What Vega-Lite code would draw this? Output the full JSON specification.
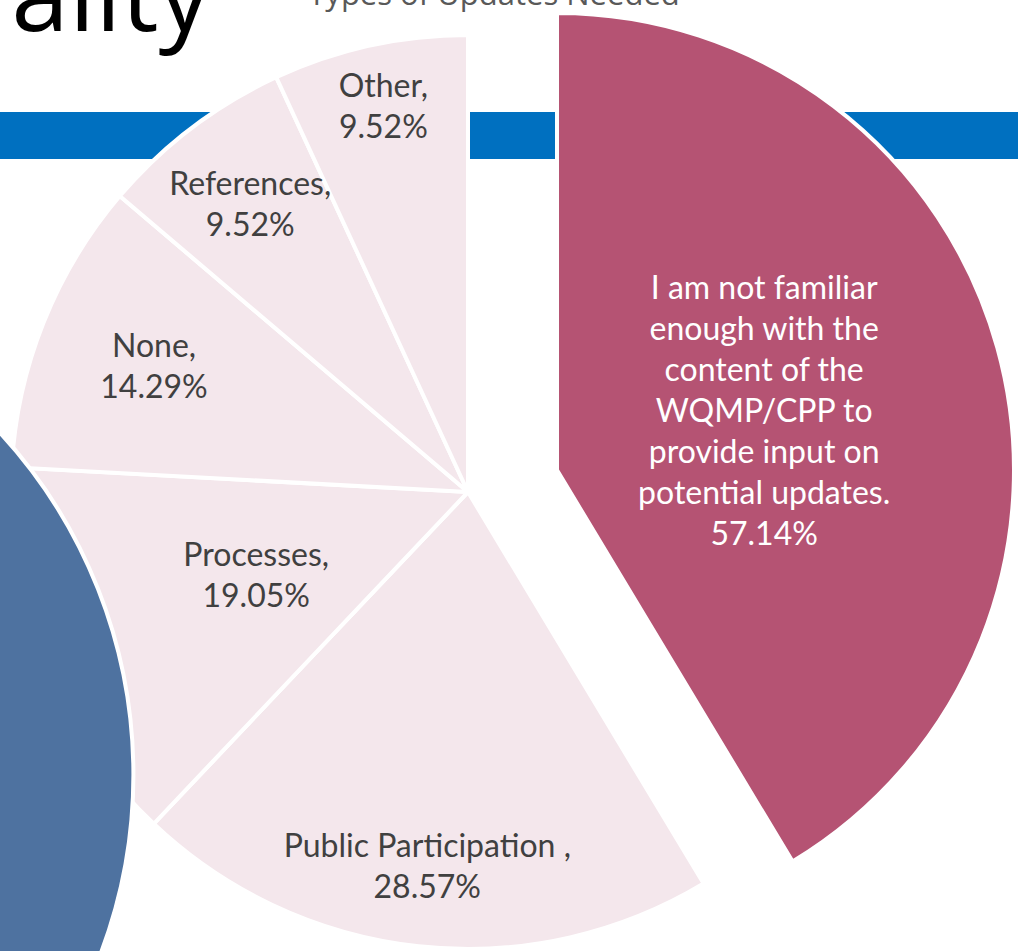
{
  "$schema": "https://vega.github.io/schema/vega-lite/v6.json",
  "width": 936,
  "height": 918,
  "padding": {"left": 0, "top": 33, "right": 82, "bottom": 0},
  "autosize": {"type": "none"},
  "background": "white",
  "config": {"view": {"stroke": null}},
  "datasets": {
    "slices": [
      {"idx": 1, "category": "I am not familiar enough with the content of the WQMP/CPP to provide input on potential updates.", "value": 57.14, "label": "I am not familiar\nenough with the\ncontent of the\nWQMP/CPP to\nprovide input on\npotential updates.\n57.14%"},
      {"idx": 2, "category": "Public Participation", "value": 28.57, "label": "Public Participation ,\n28.57%"},
      {"idx": 3, "category": "Processes", "value": 19.05, "label": "Processes,\n19.05%"},
      {"idx": 4, "category": "None", "value": 14.29, "label": "None,\n14.29%"},
      {"idx": 5, "category": "References", "value": 9.52, "label": "References,\n9.52%"},
      {"idx": 6, "category": "Other", "value": 9.52, "label": "Other,\n9.52%"}
    ]
  },
  "layer": [
    {
      "data": {"values": [{"shape": "band"}]},
      "mark": {"type": "rect", "color": "#0070c0"},
      "encoding": {
        "x": {"datum": -0.05, "type": "quantitative", "scale": {"domain": [0, 1], "nice": false, "zero": false}, "axis": null},
        "x2": {"datum": 1.1},
        "y": {"datum": 0.0861, "type": "quantitative", "scale": {"domain": [0, 1], "reverse": true, "nice": false, "zero": false}, "axis": null},
        "y2": {"datum": 0.1373}
      }
    },
    {
      "data": {"name": "slices"},
      "mark": {"type": "arc", "radius": 457, "stroke": "white", "strokeWidth": 4},
      "encoding": {
        "theta": {"field": "value", "type": "quantitative", "stack": true},
        "order": {"field": "idx", "type": "quantitative"},
        "color": {"condition": {"test": "datum.idx === 1", "value": "#b55373"}, "value": "#f4e7ec"},
        "opacity": {"condition": {"test": "datum.idx === 1", "value": 0}, "value": 1}
      }
    },
    {
      "data": {"name": "slices"},
      "mark": {"type": "arc", "radius": 457, "stroke": "white", "strokeWidth": 4, "xOffset": 89, "yOffset": -22},
      "encoding": {
        "theta": {"field": "value", "type": "quantitative", "stack": true},
        "order": {"field": "idx", "type": "quantitative"},
        "color": {"condition": {"test": "datum.idx === 1", "value": "#b55373"}, "value": "#f4e7ec"},
        "opacity": {"condition": {"test": "datum.idx === 1", "value": 1}, "value": 0}
      }
    },
    {
      "data": {"name": "slices"},
      "mark": {"type": "text", "radius": 215, "xOffset": 89, "yOffset": -22, "dy": -123, "font": "Lato", "fontSize": 32, "lineHeight": 41, "lineBreak": "\n", "align": "center", "baseline": "middle", "color": "white"},
      "encoding": {
        "theta": {"field": "value", "type": "quantitative", "stack": true},
        "order": {"field": "idx", "type": "quantitative"},
        "text": {"condition": {"test": "datum.idx === 1", "field": "label"}, "value": ""}
      }
    },
    {
      "data": {"name": "slices"},
      "mark": {"type": "text", "radius": 377, "dy": -20, "font": "Lato", "fontSize": 32, "lineHeight": 41, "lineBreak": "\n", "align": "center", "baseline": "middle", "color": "#404040"},
      "encoding": {
        "theta": {"field": "value", "type": "quantitative", "stack": true},
        "order": {"field": "idx", "type": "quantitative"},
        "text": {"condition": {"test": "datum.idx === 2", "field": "label"}, "value": ""}
      }
    },
    {
      "data": {"name": "slices"},
      "mark": {"type": "text", "radius": 360, "dy": -20, "font": "Lato", "fontSize": 32, "lineHeight": 41, "lineBreak": "\n", "align": "center", "baseline": "middle", "color": "#404040"},
      "encoding": {
        "theta": {"field": "value", "type": "quantitative", "stack": true},
        "order": {"field": "idx", "type": "quantitative"},
        "text": {"condition": {"test": "datum.idx === 5", "field": "label"}, "value": ""}
      }
    },
    {
      "data": {"name": "slices"},
      "mark": {"type": "text", "radius": 228, "dy": -20, "font": "Lato", "fontSize": 32, "lineHeight": 41, "lineBreak": "\n", "align": "center", "baseline": "middle", "color": "#404040"},
      "encoding": {
        "theta": {"field": "value", "type": "quantitative", "stack": true},
        "order": {"field": "idx", "type": "quantitative"},
        "text": {"condition": {"test": "datum.idx === 3", "field": "label"}, "value": ""}
      }
    },
    {
      "data": {"name": "slices"},
      "mark": {"type": "text", "radius": 338, "dy": -20, "font": "Lato", "fontSize": 32, "lineHeight": 41, "lineBreak": "\n", "align": "center", "baseline": "middle", "color": "#404040"},
      "encoding": {
        "theta": {"field": "value", "type": "quantitative", "stack": true},
        "order": {"field": "idx", "type": "quantitative"},
        "text": {"condition": {"test": "datum.idx === 4", "field": "label"}, "value": ""}
      }
    },
    {
      "data": {"name": "slices"},
      "mark": {"type": "text", "radius": 394, "dy": -20, "font": "Lato", "fontSize": 32, "lineHeight": 41, "lineBreak": "\n", "align": "center", "baseline": "middle", "color": "#404040"},
      "encoding": {
        "theta": {"field": "value", "type": "quantitative", "stack": true},
        "order": {"field": "idx", "type": "quantitative"},
        "text": {"condition": {"test": "datum.idx === 6", "field": "label"}, "value": ""}
      }
    },
    {
      "data": {"values": [{"shape": "circle"}]},
      "mark": {"type": "point", "shape": "circle", "filled": true, "opacity": 1, "size": 1020100, "color": "#4e72a0", "stroke": "white", "strokeWidth": 4},
      "encoding": {
        "x": {"datum": -0.397, "type": "quantitative"},
        "y": {"datum": 0.808, "type": "quantitative"}
      }
    },
    {
      "data": {"values": [{"text": "ality"}]},
      "mark": {"type": "text", "font": "Open Sans", "fontSize": 104, "align": "left", "baseline": "alphabetic", "color": "black"},
      "encoding": {
        "x": {"datum": 0.012, "type": "quantitative"},
        "y": {"datum": -0.002, "type": "quantitative"},
        "text": {"field": "text"}
      }
    },
    {
      "data": {"values": [{"text": "Types of Updates Needed"}]},
      "mark": {"type": "text", "font": "Open Sans", "fontSize": 31, "align": "center", "baseline": "alphabetic", "color": "#595959"},
      "encoding": {
        "x": {"datum": 0.5278, "type": "quantitative"},
        "y": {"datum": -0.0305, "type": "quantitative"},
        "text": {"field": "text"}
      }
    }
  ]
}
